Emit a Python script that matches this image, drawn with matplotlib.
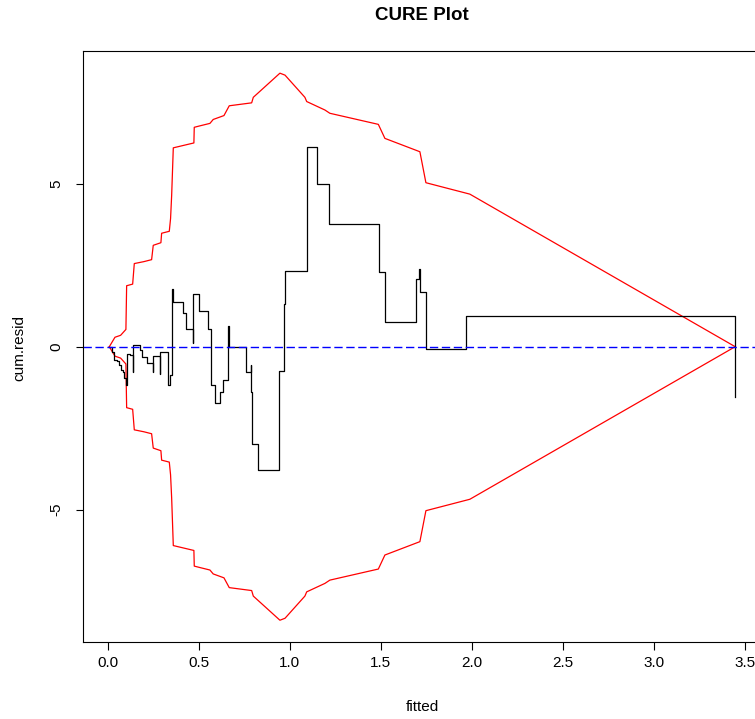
#!/usr/bin/env python3
# -*- coding: utf-8 -*-
"""
CURE plot: cumulative residuals against fitted values, with +/- 2 sigma bounds.
"""
import numpy as np
import matplotlib
matplotlib.use('Agg')
import matplotlib.pyplot as plt

# ---------------------------------- data ---------------- #

# cumulative residuals, ordered by fitted value (drawn as a step line)
fitted = [0.010, 0.025, 0.033, 0.050, 0.062, 0.072, 0.085, 0.092, 0.100, 0.104,
          0.107, 0.125, 0.138, 0.141, 0.178, 0.190, 0.215, 0.250, 0.252, 0.288,
          0.290, 0.334, 0.343, 0.355, 0.357, 0.412, 0.429, 0.470, 0.471, 0.504,
          0.553, 0.566, 0.590, 0.619, 0.634, 0.661, 0.668, 0.760, 0.785, 0.786,
          0.795, 0.827, 0.941, 0.969, 0.975, 1.093, 1.149, 1.215, 1.489, 1.522,
          1.692, 1.710, 1.712, 1.745, 1.965, 3.444]
cum_resid = [0.00, -0.15, -0.40, -0.45, -0.55, -0.72, -0.78, -0.95, -1.05, -1.18,
             -0.23, -0.26, -0.77, 0.05, -0.10, -0.32, -0.51, -0.77, -0.28, -0.85,
             -0.17, -1.18, -0.87, 1.76, 1.38, 1.02, 0.54, 0.10, 1.61, 1.10,
             0.54, -1.17, -1.74, -1.38, -1.02, 0.63, 0.00, -0.79, -0.55, -1.38,
             -2.97, -3.77, -0.74, 1.30, 2.32, 6.12, 4.98, 3.76, 2.28, 0.77,
             2.08, 2.37, 1.67, -0.07, 0.94, -1.53]

# upper bound (lower bound is its mirror image)
bound_x = [0.010, 0.041, 0.072, 0.101, 0.105, 0.138, 0.147, 0.200, 0.242, 0.251,
           0.293, 0.297, 0.339, 0.346, 0.352, 0.361, 0.474, 0.476, 0.504, 0.562,
           0.580, 0.639, 0.668, 0.791, 0.800, 0.946, 0.974, 1.083, 1.093, 1.193,
           1.220, 1.486, 1.522, 1.714, 1.747, 1.988, 3.444]
bound_y = [0.00, 0.29, 0.35, 0.53, 1.87, 1.92, 2.55, 2.61, 2.67, 3.11,
           3.19, 3.48, 3.54, 3.93, 4.64, 6.10, 6.25, 6.73, 6.77, 6.85,
           6.97, 7.09, 7.39, 7.48, 7.65, 8.39, 8.33, 7.65, 7.52, 7.26,
           7.16, 6.82, 6.39, 5.98, 5.03, 4.68, 0.00]

xticks = [0.0, 0.5, 1.0, 1.5, 2.0, 2.5, 3.0, 3.5]
yticks = [-5, 0, 5]

# ---------------------------------- plot ---------------- #

plt.rcParams['font.family'] = ['Liberation Sans', 'DejaVu Sans']

fig = plt.figure(figsize=(7.55, 7.19), dpi=100)
# axes run off the right edge, as in the cropped original
ax = fig.add_axes([0.1098, 0.107, 0.898, 0.8216])

bx = np.array(bound_x)
by = np.array(bound_y)
ax.plot(bx, by, color='red', lw=0.9)
ax.plot(bx, -by, color='red', lw=0.9)

ax.plot(fitted, cum_resid, drawstyle='steps-post', color='black', lw=0.9)

ax.axhline(0, color='#0000ff', lw=1.0, linestyle=(0, (6.0, 2.6)))

ax.set_xlim(-0.135, 3.585)
ax.set_ylim(-9.06, 9.06)

ax.set_xticks(xticks)
ax.set_xticklabels(['%.1f' % v for v in xticks])
ax.set_yticks(yticks)
ax.set_yticklabels([str(v) for v in yticks], rotation=90, va='center')

ax.tick_params(axis='both', length=5.4, width=0.8, labelsize=11, colors='black')
ax.tick_params(axis='x', pad=4.3)
ax.tick_params(axis='y', pad=9)
for s in ax.spines.values():
    s.set_linewidth(0.8)
    s.set_color('black')

ax.set_xlabel('fitted', fontsize=11, va='center')
ax.xaxis.set_label_coords(0.5, -0.110)
ax.set_ylabel('cum.resid', fontsize=11, va='center')
ax.yaxis.set_label_coords(-0.093, 0.497)

fig.text(0.559, 1 - 15/719., 'CURE Plot', fontsize=13.5, fontweight='bold',
         ha='center', va='center')

fig.savefig('out.png', dpi=100)
